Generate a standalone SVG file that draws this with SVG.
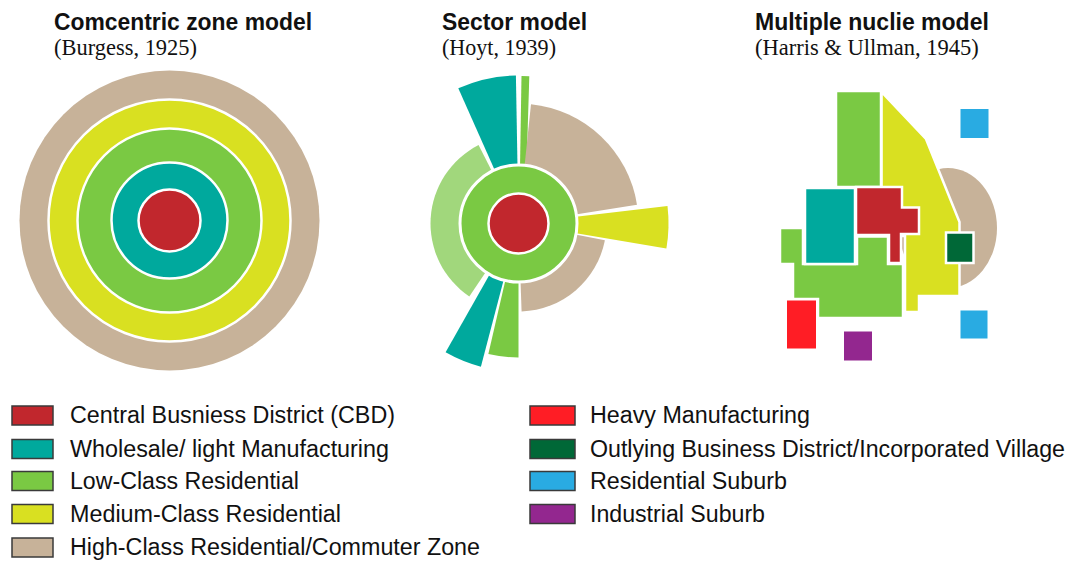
<svg xmlns="http://www.w3.org/2000/svg" width="1074" height="561" viewBox="0 0 1074 561">
  <style>
    .title { font-family: "Liberation Sans", Arial, sans-serif; font-weight: bold; font-size: 23px; fill: #111; }
    .cite { font-family: "Liberation Serif", "Times New Roman", serif; font-size: 22.5px; fill: #111; }
    .lg { font-family: "Liberation Sans", Arial, sans-serif; font-size: 23px; fill: #111; }
    .sw { stroke: #3a3a3a; stroke-width: 1.5; }
    .sep { stroke: #fff; stroke-width: 2.5; }
    .cbd { fill: #C1272D; }
    .whl { fill: #00A99D; }
    .low { fill: #7AC943; }
    .lowl { fill: #A1D77C; }
    .med { fill: #D9E021; }
    .high { fill: #C7B299; }
    .heavy { fill: #FF1D25; }
    .obd { fill: #006837; }
    .rsub { fill: #29ABE2; }
    .isub { fill: #93278F; }
  </style>
  <rect width="1074" height="561" fill="#fff"/>

  <!-- headings -->
  <g id="headings">
    <text class="title" x="54" y="30" textLength="258" lengthAdjust="spacingAndGlyphs">Comcentric zone model</text>
    <text class="cite" x="54" y="55" textLength="143" lengthAdjust="spacingAndGlyphs">(Burgess, 1925)</text>
    <text class="title" x="442" y="30" textLength="145" lengthAdjust="spacingAndGlyphs">Sector model</text>
    <text class="cite" x="442" y="55" textLength="114" lengthAdjust="spacingAndGlyphs">(Hoyt, 1939)</text>
    <text class="title" x="755" y="30">Multiple nuclie model</text>
    <text class="cite" x="755" y="55">(Harris &amp; Ullman, 1945)</text>
  </g>

  <!-- concentric zone model: rings around the CBD -->
  <g id="concentric-model">
    <circle class="high" cx="169.5" cy="220.5" r="150"/>
    <circle class="med sep" cx="169.5" cy="220.5" r="121"/>
    <circle class="low sep" cx="169.5" cy="220.5" r="92"/>
    <circle class="whl sep" cx="169.5" cy="220.5" r="58"/>
    <circle class="cbd sep" cx="169.5" cy="220.5" r="31"/>
  </g>

  <!-- sector model: wedges radiating from the core -->
  <g id="sector-model">
    <path id="sec-lowl" class="lowl" d="M518.5,223.5 L478.55,145.1 A88 88 0 0 0 469.3,296.45 Z"/>
    <path id="sec-whl-top" class="whl" d="M518.5,223.5 L515.9,75.5 A148 148 0 0 0 458.3,88.3 Z"/>
    <path id="sec-low-top" class="low" d="M520,168 L521.5,76 A148 148 0 0 1 529.3,76.2 L526.5,168 Z"/>
    <path id="sec-high-top" class="high" d="M518.5,223.5 L637.0,204.7 A120 120 0 0 0 531.0,104.2 Z"/>
    <path id="sec-med" class="med" d="M518.5,223.5 L666.4,248.5 A150 150 0 0 0 667.5,206.0 Z"/>
    <path id="sec-high-bot" class="high" d="M518.5,223.5 L521.6,311.45 A88 88 0 0 0 604.9,240.3 Z"/>
    <path id="sec-low-bot" class="low" d="M518.5,223.5 L488.35,354.1 A134 134 0 0 0 518.5,357.5 Z"/>
    <path id="sec-whl-bot" class="whl" d="M518.5,223.5 L445.6,352.3 A148 148 0 0 0 480.9,366.7 Z"/>
    <circle class="low" cx="518.5" cy="223.5" r="58.5" stroke="#fff" stroke-width="3"/>
    <circle class="cbd sep" cx="518.5" cy="223.5" r="30"/>
  </g>

  <!-- multiple nuclei model: blocks of land use -->
  <g id="nuclei-model">
    <ellipse id="nuc-high" class="high" cx="948" cy="228" rx="49" ry="60"/>
    <path id="nuc-med" class="med sep" d="M881.5,92 L926,139 L959.5,222 L959.5,296 L919,296 L919,312 L905,312 L905,236 L881.5,236 Z"/>
    <rect id="nuc-low-top" class="low sep" x="836" y="91" width="45" height="96"/>
    <path id="nuc-low-bot" class="low sep" d="M780,228 L803,228 L803,264 L857,264 L857,236.5 L888,236.5 L888,264 L903,264 L903,318 L818,318 L818,299 L793,299 L793,264 L780,264 Z"/>
    <rect id="nuc-whl" class="whl sep" x="805" y="188" width="50" height="76"/>
    <path id="nuc-cbd" class="cbd sep" d="M856,187 L902,187 L902,207.5 L919,207.5 L919,234 L901,234 L901,263 L889,263 L889,235 L856,235 Z"/>
    <rect id="nuc-obd" class="obd sep" x="946" y="232.5" width="27.5" height="30.5"/>
    <rect id="nuc-rsub-top" class="rsub" x="960.5" y="109" width="28" height="29"/>
    <rect id="nuc-rsub-bot" class="rsub" x="960.5" y="310.5" width="27" height="28"/>
    <rect id="nuc-heavy" class="heavy" x="787" y="300.5" width="29" height="48"/>
    <rect id="nuc-isub" class="isub" x="844" y="331.5" width="28" height="29"/>
  </g>

  <!-- legend -->
  <g id="legend">
    <g id="lg-cbd"><rect class="cbd sw" x="12" y="406" width="41" height="19"/><text class="lg" x="70" y="423" textLength="325" lengthAdjust="spacingAndGlyphs">Central Busniess District (CBD)</text></g>
    <g id="lg-whl"><rect class="whl sw" x="12" y="439.5" width="41" height="19"/><text class="lg" x="70" y="456.5" textLength="319" lengthAdjust="spacingAndGlyphs">Wholesale/ light Manufacturing</text></g>
    <g id="lg-low"><rect class="low sw" x="12" y="471.5" width="41" height="19"/><text class="lg" x="70" y="488.5" textLength="229" lengthAdjust="spacingAndGlyphs">Low-Class Residential</text></g>
    <g id="lg-med"><rect class="med sw" x="12" y="504.5" width="41" height="19"/><text class="lg" x="70" y="521.5" textLength="271" lengthAdjust="spacingAndGlyphs">Medium-Class Residential</text></g>
    <g id="lg-high"><rect class="high sw" x="12" y="538" width="41" height="19"/><text class="lg" x="70" y="555" textLength="410" lengthAdjust="spacingAndGlyphs">High-Class Residential/Commuter Zone</text></g>
    <g id="lg-heavy"><rect class="heavy sw" x="530" y="406" width="45" height="19"/><text class="lg" x="590" y="423" textLength="220" lengthAdjust="spacingAndGlyphs">Heavy Manufacturing</text></g>
    <g id="lg-obd"><rect class="obd sw" x="530" y="439.5" width="45" height="19"/><text class="lg" x="590" y="456.5" textLength="475" lengthAdjust="spacingAndGlyphs">Outlying Business District/Incorporated Village</text></g>
    <g id="lg-rsub"><rect class="rsub sw" x="530" y="471.5" width="45" height="19"/><text class="lg" x="590" y="488.5" textLength="197" lengthAdjust="spacingAndGlyphs">Residential Suburb</text></g>
    <g id="lg-isub"><rect class="isub sw" x="530" y="504.5" width="45" height="19"/><text class="lg" x="590" y="521.5" textLength="175" lengthAdjust="spacingAndGlyphs">Industrial Suburb</text></g>
  </g>

  <!-- no connectors in this figure -->
  <g id="connectors"/>
</svg>
